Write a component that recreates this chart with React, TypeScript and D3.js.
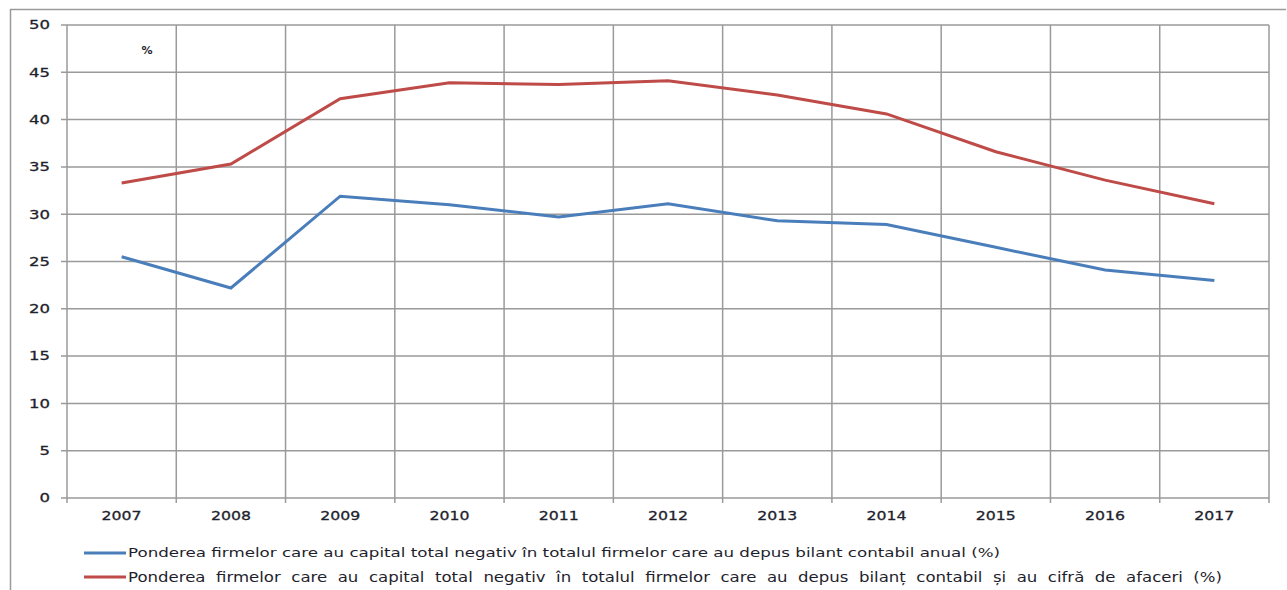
import React from "react";
import * as d3 from "d3";

// Chart data
const years = ["2007", "2008", "2009", "2010", "2011", "2012", "2013", "2014", "2015", "2016", "2017"];
const anualValues = [25.5, 22.2, 31.9, 31.0, 29.7, 31.1, 29.3, 28.9, 26.5, 24.1, 23.0];
const cifraValues = [33.3, 35.3, 42.2, 43.9, 43.7, 44.1, 42.6, 40.6, 36.6, 33.6, 31.1];
const yTicks = [0, 5, 10, 15, 20, 25, 30, 35, 40, 45, 50];
const legendAnual =
  "Ponderea firmelor care au capital total negativ în totalul firmelor care au depus bilant contabil anual (%)";
const legendCifra =
  "Ponderea  firmelor  care  au  capital  total  negativ  în  totalul  firmelor  care  au  depus  bilanț  contabil  și  au  cifră  de  afaceri  (%)";

const App: React.FC = () => {
  const width = 1287;
  const height = 590;
  const plot = { left: 67, right: 1269, top: 25, bottom: 498 };

  const x = d3.scaleBand<string>().domain(years).range([plot.left, plot.right]).padding(0);
  const y = d3.scaleLinear().domain([0, 50]).range([plot.bottom, plot.top]);
  const cx = (yr: string) => (x(yr) ?? 0) + x.bandwidth() / 2;

  const line = d3
    .line<number>()
    .x((_, i) => cx(years[i]))
    .y((d) => y(d));

  const boundaries = years.map((yr) => x(yr) ?? 0).concat([plot.right]);
  const grid = "#9a9a9a";
  const textColor = "#1f1f2e";

  return (
    <svg
      width={width}
      height={height}
      style={{ position: "absolute", left: 0, top: 0, background: "#fff" }}
      fontFamily="DejaVu Sans, Verdana, sans-serif"
    >
      {/* outer frame */}
      <line x1={10} x2={1286} y1={9.5} y2={9.5} stroke={grid} strokeWidth={1.5} />
      <line x1={10.5} x2={10.5} y1={9} y2={590} stroke={grid} strokeWidth={1.5} />

      {/* horizontal gridlines + y ticks */}
      {yTicks.map((t) => (
        <g key={t}>
          <line x1={61} x2={plot.right} y1={y(t)} y2={y(t)} stroke={grid} strokeWidth={1.5} />
          <text
            x={50}
            y={y(t)}
            dy="0.35em"
            textAnchor="end"
            fontSize={12.5}
            fill={textColor}
            stroke={textColor}
            strokeWidth={0.3}
            textLength={String(t).length * 10.5}
            lengthAdjust="spacingAndGlyphs"
          >
            {t}
          </text>
        </g>
      ))}

      {/* vertical gridlines */}
      {boundaries.map((b, i) => (
        <line key={i} x1={b} x2={b} y1={plot.top} y2={plot.bottom + 5} stroke={grid} strokeWidth={1.5} />
      ))}

      {/* x labels */}
      {years.map((yr) => (
        <text
          key={yr}
          x={cx(yr)}
          y={520}
          textAnchor="middle"
          fontSize={12.5}
          fill={textColor}
          stroke={textColor}
          strokeWidth={0.3}
          textLength={40}
          lengthAdjust="spacingAndGlyphs"
        >
          {yr}
        </text>
      ))}

      <text x={147} y={54} textAnchor="middle" fontSize={11} fontWeight="bold" fill={textColor}>
        %
      </text>

      {/* series */}
      <path d={line(cifraValues) ?? ""} fill="none" stroke="#be4b48" strokeWidth={3} />
      <path d={line(anualValues) ?? ""} fill="none" stroke="#4a7ebb" strokeWidth={3} />

      {/* legend */}
      <line x1={84} x2={126} y1={553} y2={553} stroke="#4a7ebb" strokeWidth={3} />
      <text x={128} y={557} fontSize={12} fill={textColor} textLength={872} lengthAdjust="spacingAndGlyphs">
        {legendAnual}
      </text>
      <line x1={84} x2={126} y1={577} y2={577} stroke="#be4b48" strokeWidth={3} />
      <text
        x={128}
        y={582}
        fontSize={14}
        fill={textColor}
        textLength={1094}
        lengthAdjust="spacingAndGlyphs"
        style={{ whiteSpace: "pre" }}
      >
        {legendCifra}
      </text>
    </svg>
  );
};

export default App;
